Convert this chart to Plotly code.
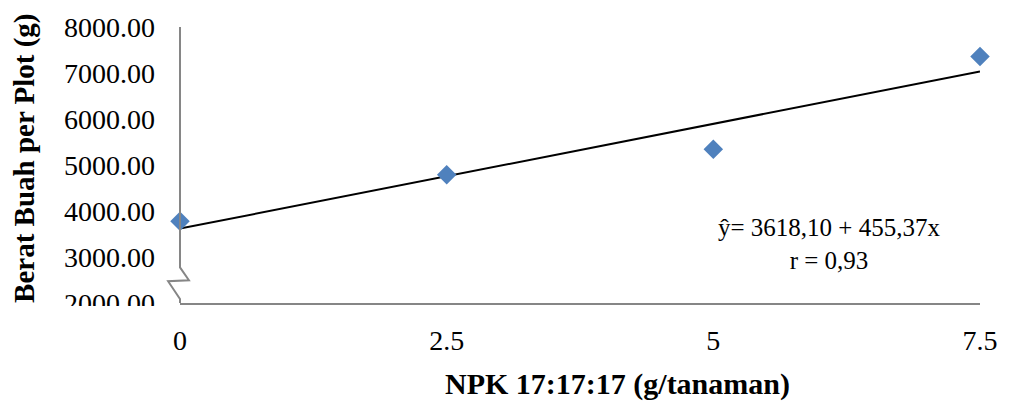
import plotly.graph_objects as go

# Data
npk_dose = [0, 2.5, 5, 7.5]
fruit_weight = [3778, 4786, 5343, 7357]
intercept = 3618.10
slope = 455.37
x_ticks = [0, 2.5, 5, 7.5]
x_tick_labels = ["0", "2.5", "5", "7.5"]
y_ticks = [2000, 3000, 4000, 5000, 6000, 7000, 8000]
y_tick_labels = ["%.2f" % v for v in y_ticks]
equation_text = "ŷ= 3618,10 + 455,37x<br>r = 0,93"
x_title = "NPK 17:17:17 (g/tanaman)"
y_title = "Berat Buah per Plot (g)"

W, H = 1010, 404
L, R, T, B = 180, 23, 24, 101
pw, ph = W - L - R, H - T - B

def px(xp):
    return (xp - L) / pw

def py(yp):
    return (H - B - yp) / ph

font_main = "Liberation Serif"

fig = go.Figure()

trend_x = [min(npk_dose), max(npk_dose)]
trend_y = [intercept + slope * v for v in trend_x]
fig.add_trace(go.Scatter(x=trend_x, y=trend_y, mode="lines",
                         line=dict(color="black", width=2), showlegend=False,
                         cliponaxis=False, hoverinfo="skip"))
fig.add_trace(go.Scatter(x=npk_dose, y=fruit_weight, mode="markers",
                         marker=dict(symbol="diamond", size=15, color="#4F81BD"),
                         showlegend=False, cliponaxis=False))

axis_color = "#868686"
fig.update_layout(
    width=W, height=H,
    margin=dict(l=L, r=R, t=T, b=B),
    paper_bgcolor="white", plot_bgcolor="white",
    font=dict(family=font_main, color="black", size=26),
    xaxis=dict(range=[0, 7.5], tickvals=x_ticks, ticktext=x_tick_labels,
               showgrid=False, zeroline=False, showline=True, linecolor=axis_color,
               linewidth=2, ticks="", ticklabelstandoff=11,
               tickfont=dict(size=28, family=font_main)),
    yaxis=dict(range=[2000, 8000], tickvals=y_ticks, ticktext=y_tick_labels,
               showgrid=False, zeroline=False, showline=False, ticks="",
               ticklabelstandoff=24, tickfont=dict(size=28, family=font_main)),
    annotations=[
        dict(text=equation_text, xref="paper", yref="paper",
             x=px(835), y=py(243), xanchor="center", yanchor="middle",
             showarrow=False, align="center",
             font=dict(size=25, family=font_main)),
        dict(text="<b>" + x_title + "</b>", xref="paper", yref="paper",
             x=px(621), y=py(385), xanchor="center", yanchor="middle",
             showarrow=False, font=dict(size=30, family=font_main)),
        dict(text="<b>" + y_title + "</b>", xref="paper", yref="paper",
             x=px(23), y=py(157), xanchor="center", yanchor="middle",
             textangle=-90, showarrow=False,
             font=dict(size=29, family=font_main)),
    ],
    shapes=[
        # white strip clipping the bottom of the lowest tick label
        dict(type="rect", xref="paper", yref="paper",
             x0=px(50), x1=px(176), y0=py(306), y1=py(320),
             fillcolor="white", line=dict(width=0), layer="above"),
        # y axis with break
        dict(type="path", xref="paper", yref="paper",
             path="M %f,%f L %f,%f L %f,%f L %f,%f L %f,%f L %f,%f" % (
                 px(180), py(24), px(180), py(267), px(189), py(280),
                 px(168), py(281), px(180), py(299), px(180), py(303)),
             line=dict(color=axis_color, width=2), layer="above"),
    ],
)

fig.write_html("out.html", config={"displayModeBar": False},
               post_script="document.body.style.margin='0px';document.body.style.overflow='hidden';")
